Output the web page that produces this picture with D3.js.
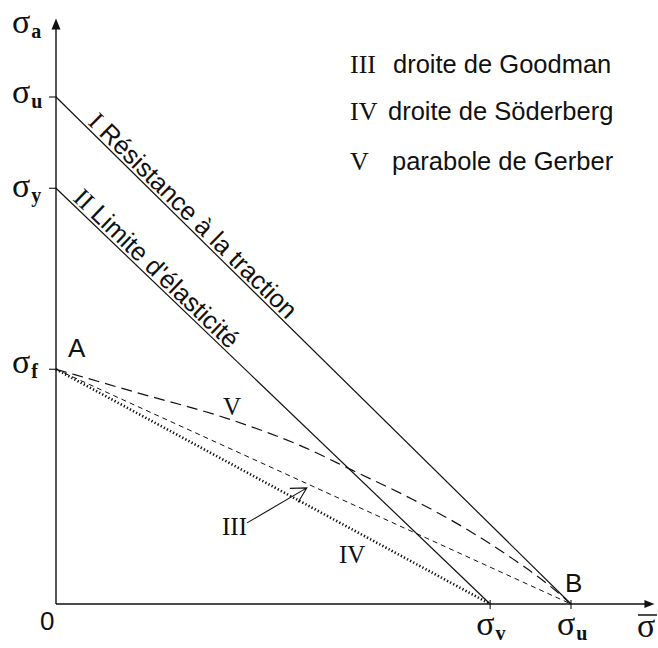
<!DOCTYPE html>
<html>
<head>
<meta charset="utf-8">
<script src="https://cdn.jsdelivr.net/npm/d3@7"></script>
<style>
  body { margin: 0; background: #fff; }
  .sans { font-family: "Liberation Sans", Arial, sans-serif; }
  .serif { font-family: "Liberation Serif", "Times New Roman", serif; }
</style>
</head>
<body>
<div id="chart"></div>
<script>
"use strict";

// stress values, sigma_u taken as 100
const sigmaU = 100;
const sigmaY = 82;     // on the sigma_a axis
const sigmaV = 84.3;   // on the mean stress axis
const sigmaF = 46.3;

const axisMaxX = 116.2;
const axisMaxY = 115.5;

// Gerber parabola
const gerberX = [0, 15, 34.4, 48, 57.5, 69.3, 80, 88.7, 95, 100];
const gerberY = [46.3, 41.9, 36.2, 31.0, 26.4, 20.6, 14.6, 8.9, 4.3, 0];

// legend
const legendNums = ["III", "IV", "V"];
const legendTexts = ["droite de Goodman", "droite de Söderberg", "parabole de Gerber"];

// arrow pointing at line III (tail, tip)
const arrowIII = [[37.1, 16.0], [48.7, 22.9]];

const width = 658, height = 648;

let svg = d3.select("#chart").append("svg")
  .attr("width", width)
  .attr("height", height);

let x = d3.scaleLinear().domain([0, 100]).range([56, 571]);
let y = d3.scaleLinear().domain([0, 100]).range([604, 97]);

let line = d3.line().x(d => x(d[0])).y(d => y(d[1]));
let ink = "#111";

// axes
let axisG = svg.append("g").attr("stroke", ink).attr("stroke-width", 1.4);
axisG.append("line")
  .attr("x1", x(0)).attr("y1", y(0))
  .attr("x2", x(0)).attr("y2", y(axisMaxY) + 8);
axisG.append("line")
  .attr("x1", x(0)).attr("y1", y(0))
  .attr("x2", x(axisMaxX) - 8).attr("y2", y(0));

svg.append("path")
  .attr("d", "M" + x(0) + "," + y(axisMaxY) + "l-4.5,11h9z")
  .attr("fill", ink);
svg.append("path")
  .attr("d", "M" + x(axisMaxX) + "," + y(0) + "l-10,-4h0v8z")
  .attr("fill", ink);

// ticks
[sigmaU, sigmaY, sigmaF].forEach(v => {
  axisG.append("line")
    .attr("x1", x(0) - 7).attr("x2", x(0) + 1)
    .attr("y1", y(v)).attr("y2", y(v))
    .attr("stroke-width", 1.1);
});
[sigmaV, sigmaU].forEach(v => {
  axisG.append("line")
    .attr("x1", x(v)).attr("x2", x(v))
    .attr("y1", y(0) - 4).attr("y2", y(0) + 5)
    .attr("stroke-width", 1.1);
});

// the five curves
let curveG = svg.append("g").attr("fill", "none").attr("stroke", ink);

curveG.append("path")  // I
  .attr("d", line([[0, sigmaU], [sigmaU, 0]]))
  .attr("stroke-width", 1.2);
curveG.append("path")  // II
  .attr("d", line([[0, sigmaY], [sigmaV, 0]]))
  .attr("stroke-width", 1.2);
curveG.append("path")  // III Goodman
  .attr("d", line([[0, sigmaF], [sigmaU, 0]]))
  .attr("stroke-width", 1)
  .attr("stroke-dasharray", "5,4");
curveG.append("path")  // IV Soderberg
  .attr("d", line([[0, sigmaF], [sigmaV, 0]]))
  .attr("stroke-width", 2.6)
  .attr("stroke-dasharray", "1.3,2.2");

let gerber = d3.line().curve(d3.curveMonotoneX).x(d => x(d[0])).y(d => y(d[1]));
curveG.append("path")  // V Gerber
  .attr("d", gerber(gerberX.map((v, i) => [v, gerberY[i]])))
  .attr("stroke-width", 1.2)
  .attr("stroke-dasharray", "11,6");

// arrow for III
let tail = [x(arrowIII[0][0]), y(arrowIII[0][1])];
let tip = [x(arrowIII[1][0]), y(arrowIII[1][1])];
let ang = Math.atan2(tail[1] - tip[1], tail[0] - tip[0]);
let barb = 17, spread = 0.5;
curveG.append("path")
  .attr("d", "M" + tail + "L" + tip +
    "M" + [tip[0] + barb * Math.cos(ang - spread), tip[1] + barb * Math.sin(ang - spread)] + "L" + tip +
    "L" + [tip[0] + barb * Math.cos(ang + spread), tip[1] + barb * Math.sin(ang + spread)])
  .attr("stroke-width", 1.1);

// sigma labels with subscript
function sigmaLabel(px, py, sub) {
  let t = svg.append("text")
    .attr("x", px).attr("y", py)
    .attr("fill", ink)
    .attr("class", "serif");
  t.append("tspan").attr("font-size", 34).text("σ");
  t.append("tspan").attr("font-size", 20).attr("font-weight", "bold")
    .attr("dx", 1).attr("dy", 5).text(sub);
  return t;
}

sigmaLabel(12, 33, "a");
sigmaLabel(12, y(sigmaU) + 6, "u");
sigmaLabel(12, y(sigmaY) + 9, "y");
sigmaLabel(12, y(sigmaF) + 4, "f");
sigmaLabel(x(sigmaV) - 14, 635, "v");
sigmaLabel(x(sigmaU) - 14, 635, "u");

// mean stress symbol
svg.append("text")
  .attr("class", "serif").attr("font-size", 34).attr("fill", ink)
  .attr("x", 637).attr("y", 637).text("σ");
svg.append("line")
  .attr("x1", 638).attr("x2", 657).attr("y1", 615).attr("y2", 615)
  .attr("stroke", ink).attr("stroke-width", 1.5);

svg.append("text")
  .attr("class", "sans").attr("font-size", 26).attr("fill", ink)
  .attr("x", 40).attr("y", 630).text("0");
svg.append("text")
  .attr("class", "sans").attr("font-size", 26).attr("fill", ink)
  .attr("x", x(0) + 12).attr("y", y(sigmaF) - 12).text("A");
svg.append("text")
  .attr("class", "sans").attr("font-size", 26).attr("fill", ink)
  .attr("x", x(sigmaU) - 6).attr("y", y(0) - 12).text("B");

// roman numerals on the chart
function numeral(px, py, txt) {
  svg.append("text")
    .attr("class", "serif").attr("font-size", 25).attr("fill", ink)
    .attr("x", px).attr("y", py).text(txt);
}
numeral(222, 535, "III");
numeral(339, 563, "IV");
numeral(223, 415, "V");

// labels along lines I and II
function lineLabel(x0, y0, x1, y1, t0, num, txt) {
  let p = [x(x0 + (x1 - x0) * t0), y(y0 + (y1 - y0) * t0)];
  let deg = Math.atan2(y(y1) - y(y0), x(x1) - x(x0)) * 180 / Math.PI;
  let t = svg.append("text")
    .attr("transform", "translate(" + p + ") rotate(" + deg + ")")
    .attr("dy", -3)
    .attr("fill", ink)
    .attr("font-size", 25.5);
  t.append("tspan").attr("class", "serif").text(num);
  t.append("tspan").attr("class", "sans").text(txt);
}
lineLabel(0, sigmaU, sigmaU, 0, 0.056, "I", " Résistance à la traction");
lineLabel(0, sigmaY, sigmaV, 0, 0.032, "II", " Limite d'élasticité");

// legend
let legend = svg.append("g").attr("fill", ink);
let legendRows = [73, 120, 170];
let legendTextX = [393, 388, 392];
legendNums.forEach((n, i) => {
  legend.append("text")
    .attr("class", "serif").attr("font-size", 26)
    .attr("x", 350).attr("y", legendRows[i]).text(n);
  legend.append("text")
    .attr("class", "sans").attr("font-size", 25.5)
    .attr("x", legendTextX[i]).attr("y", legendRows[i]).text(legendTexts[i]);
});
</script>
</body>
</html>
